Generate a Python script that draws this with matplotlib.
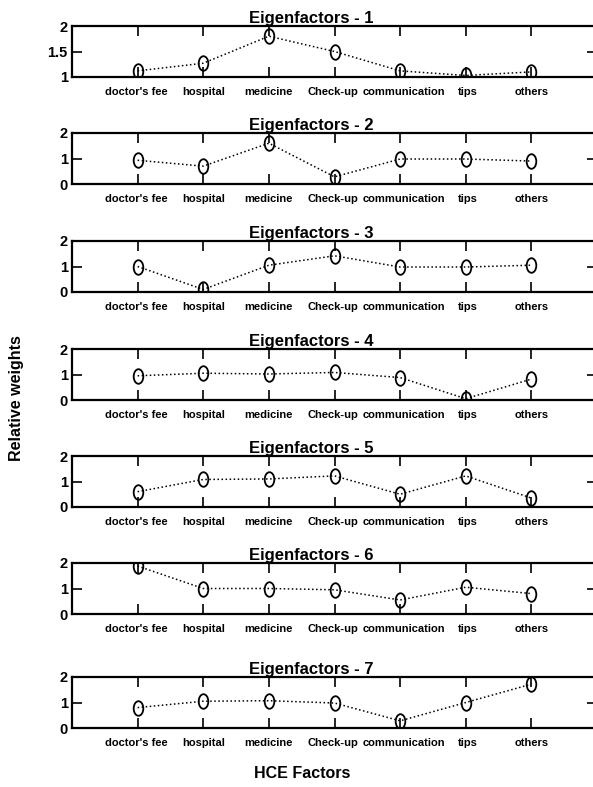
import matplotlib
matplotlib.use("Agg")
import matplotlib.pyplot as plt
import numpy as np
from matplotlib.path import Path
from matplotlib.transforms import Affine2D

plt.rcParams["font.family"] = ["Liberation Sans", "DejaVu Sans"]
plt.rcParams["font.weight"] = "bold"

FACTORS = ["doctor's fee", "hospital", "medicine", "Check-up",
           "communication", "tips", "others"]

EIG_1 = [1.12, 1.27, 1.80, 1.50, 1.12, 1.03, 1.10]
EIG_2 = [0.93, 0.70, 1.60, 0.28, 0.98, 0.98, 0.90]
EIG_3 = [1.00, 0.10, 1.05, 1.42, 0.98, 0.98, 1.05]
EIG_4 = [0.95, 1.05, 1.02, 1.08, 0.88, 0.05, 0.82]
EIG_5 = [0.60, 1.08, 1.10, 1.22, 0.50, 1.22, 0.35]
EIG_6 = [1.88, 1.00, 1.00, 0.95, 0.55, 1.05, 0.80]
EIG_7 = [0.80, 1.05, 1.07, 0.98, 0.28, 1.00, 1.72]
SERIES = [EIG_1, EIG_2, EIG_3, EIG_4, EIG_5, EIG_6, EIG_7]
TITLES = [f"Eigenfactors - {i}" for i in range(1, 8)]

# 画布像素布局 (593 x 787)
W, H = 593, 787
TOPS = [26, 133, 241, 349, 456, 563, 677]
AX_H = 51
LEFT, RIGHT = 72, 597
# 标签水平微调 (像素), 原图 Check-up / communication 之间留有空隙
LABEL_SHIFT = [-1, 0, 0, -2, 4, 2, 0]

# 竖向椭圆 marker
ellipse = Path.unit_circle().transformed(Affine2D().scale(0.66, 1.0))

fig = plt.figure(figsize=(W / 100, H / 100), dpi=100)
x = np.arange(1, len(FACTORS) + 1)

for k, (vals, title) in enumerate(zip(SERIES, TITLES)):
    top = TOPS[k]
    ax = fig.add_axes([LEFT / W, 1 - (top + AX_H) / H,
                       (RIGHT - LEFT) / W, AX_H / H])
    ax.plot(x, vals, linestyle=":", color="black", lw=1.1,
            marker=ellipse, markersize=10.5, mfc="none", mec="black", mew=1.3)
    ax.set_xlim(0, 8)
    if k == 0:
        ax.set_ylim(1, 2)
        ax.set_yticks([1, 1.5, 2])
        ax.set_yticklabels(["1", "1.5", "2"])
    else:
        ax.set_ylim(0, 2)
        ax.set_yticks([0, 1, 2])
    ax.set_xticks(x)
    ax.set_xticklabels([])
    # x 标签手动放置, 方便微调
    for xi, name, dx in zip(x, FACTORS, LABEL_SHIFT):
        ax.annotate(name, xy=(xi, 0), xycoords=("data", "axes fraction"),
                    xytext=(dx, -15), textcoords="offset pixels",
                    ha="center", va="center", fontsize=8.0,
                    fontweight="bold", annotation_clip=False)
    for lab in ax.get_yticklabels():
        lab.set_fontsize(10.5)
        lab.set_fontweight("bold")
    ax.tick_params(direction="in", length=7, width=1.2, top=True, right=True,
                   pad=3)
    for sp in ax.spines.values():
        sp.set_linewidth(1.6)
    ax.set_title(title, fontsize=12, fontweight="bold", pad=2, x=0.455)

fig.text(17 / W, 1 - 398 / H, "Relative weights", rotation=90,
         ha="center", va="center", fontsize=11.5, fontweight="bold")
fig.text(302 / W, 1 - 773 / H, "HCE Factors", ha="center", va="center",
         fontsize=11.5, fontweight="bold")

fig.savefig("out.png", dpi=100)
